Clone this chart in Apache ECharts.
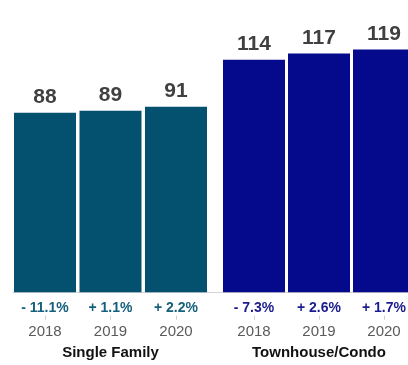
<!DOCTYPE html>
<html>
<head>
<meta charset="utf-8">
<script src="https://cdn.jsdelivr.net/npm/echarts@6/dist/echarts.min.js"></script>
<style>
  html, body { margin: 0; padding: 0; background: #fff; }
  #chart { width: 408px; height: 365px; }
</style>
</head>
<body>
<div id="chart"></div>
<script>
// Yearly values per housing type
const years = ['2018', '2019', '2020'];
const singleFamilyValues = [88, 89, 91];
const townhouseValues = [114, 117, 119];
// Year-over-year change shown under each bar
const singleFamilyChange = ['- 11.1%', '+ 1.1%', '+ 2.2%'];
const townhouseChange = ['- 7.3%', '+ 2.6%', '+ 1.7%'];
const groupNames = ['Single Family', 'Townhouse/Condo'];

const FONT = '"Liberation Sans", Arial, Helvetica, sans-serif';
const TEAL = '#03516F';
const NAVY = '#05098C';
const TOP = 6.7, BOTTOM = 72.7, YMAX = 140;
const AXIS_OFFSET = 23.4;

function changeAxis(gridIndex, labels, color) {
  return {
    type: 'category', gridIndex, data: labels, position: 'bottom',
    axisLine: { show: false }, axisTick: { show: false },
    axisLabel: { margin: 9, color, fontFamily: FONT, fontWeight: 'bold', fontSize: 14 }
  };
}
function yearAxis(gridIndex, name) {
  return {
    type: 'category', gridIndex, data: years, position: 'bottom', offset: AXIS_OFFSET,
    axisLine: { show: false },
    axisTick: { show: true, alignWithLabel: true, length: 4, lineStyle: { color: '#cfcfcf' } },
    axisLabel: { margin: 9, color: '#5a5a5a', fontFamily: FONT, fontSize: 15 },
    name, nameLocation: 'middle', nameGap: 30,
    nameTextStyle: { color: '#111', fontFamily: FONT, fontWeight: 'bold', fontSize: 15 }
  };
}
function valueAxis(gridIndex) {
  return { type: 'value', gridIndex, min: 0, max: YMAX, show: false, splitLine: { show: false } };
}
function barSeries(idx, values, color) {
  return {
    type: 'bar', xAxisIndex: idx * 2, yAxisIndex: idx, data: values,
    barWidth: 62, itemStyle: { color },
    label: { show: true, position: 'top', distance: 5, color: '#404040',
             fontFamily: FONT, fontWeight: 'bold', fontSize: 21 },
    silent: true
  };
}
function grid(left, width) {
  return { left, width, top: TOP, bottom: BOTTOM, outerBoundsMode: 'none', containLabel: false };
}

const chart = echarts.init(document.getElementById('chart'), null, { renderer: 'canvas' });
chart.setOption({
  animation: false,
  backgroundColor: '#fff',
  grid: [
    grid(12.25, 196.5),
    grid(221.5, 195),
    // full-width baseline shared by both groups
    grid(13, 404)
  ],
  xAxis: [
    changeAxis(0, singleFamilyChange, '#15607C'),
    yearAxis(0, groupNames[0]),
    changeAxis(1, townhouseChange, '#1B1B8E'),
    yearAxis(1, groupNames[1]),
    {
      type: 'category', gridIndex: 2, data: [''], position: 'bottom', offset: AXIS_OFFSET,
      axisLine: { show: true, lineStyle: { color: '#d4d4d4', width: 1 } },
      axisTick: { show: false }, axisLabel: { show: false }
    }
  ],
  yAxis: [valueAxis(0), valueAxis(1), valueAxis(2)],
  series: [
    barSeries(0, singleFamilyValues, TEAL),
    barSeries(1, townhouseValues, NAVY)
  ]
});
</script>
</body>
</html>
